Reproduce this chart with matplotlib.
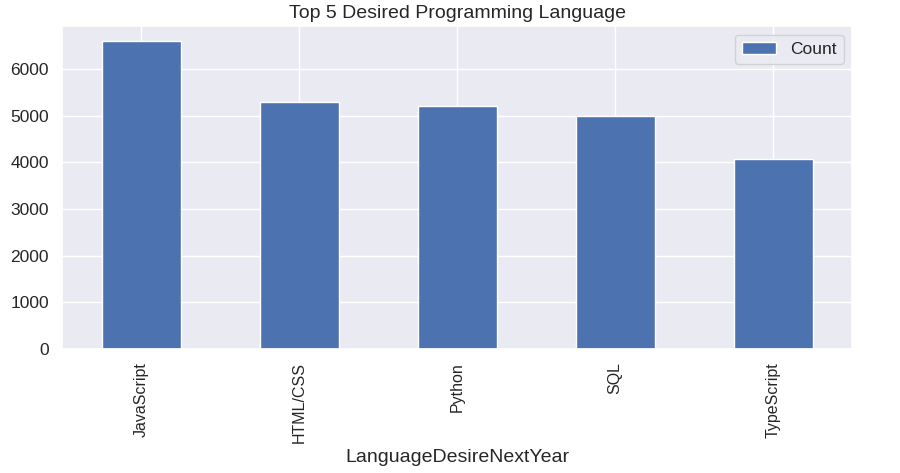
import numpy as np
import pandas as pd
import matplotlib
matplotlib.use("Agg")
import matplotlib.pyplot as plt
import seaborn as sns

sns.set_theme(style="darkgrid")
plt.rcParams['font.family'] = ['Liberation Sans', 'DejaVu Sans']

languages = ["JavaScript", "HTML/CSS", "Python", "SQL", "TypeScript"]
counts = [6590, 5290, 5215, 4990, 4070]

df = pd.DataFrame({"Count": counts}, index=pd.Index(languages, name="LanguageDesireNextYear"))

fig = plt.figure(figsize=(9, 4.73), dpi=100)
ax = fig.add_axes([0.069, 0.262, 0.878, 0.683])
df.plot(kind="bar", ax=ax, color="#4c72b0")

ax.set_title("Top 5 Desired Programming Language", fontsize=14)
ax.set_xlabel("LanguageDesireNextYear", fontsize=14)
ax.tick_params(axis="x", labelsize=11.5)
ax.tick_params(axis="y", labelsize=12.5)
ax.legend(loc="upper right", fontsize=12.5)

fig.savefig("out.png", dpi=100)
